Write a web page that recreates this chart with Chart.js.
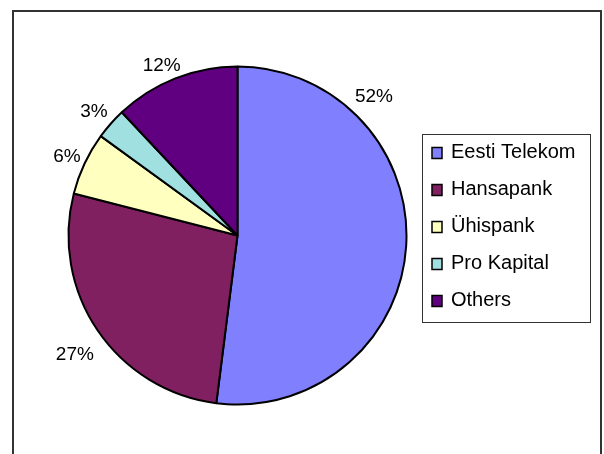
<!DOCTYPE html>
<html lang="et">
<head>
    <meta charset="UTF-8">
    <title>Document</title>
    <script src="https://cdn.jsdelivr.net/npm/chart.js"></script>
    <style>
        body{margin:0;background:#fff;}
    </style>
</head>
<body>
    <canvas id="myChart" width="604" height="454"></canvas>

<script>
    // 데이터
    var v_labels = ['Eesti Telekom', 'Hansapank', 'Ühispank', 'Pro Kapital', 'Others'];
    var v_values = [52, 27, 6, 3, 12];
    var v_colors = ['#8080ff', '#802060', '#ffffc0', '#a0e0e0', '#600080'];

    // 라벨 위치: 조각 안에서의 각도 비율, 바깥 간격(px)
    var v_labelAt = [0.227, 0.466, 0.537, 0.574, 0.479];
    var v_labelGap = [14, 17, 7, 11, 10];

    var v_font = '"Liberation Sans", Arial, sans-serif';

    function f_pct(i){
        var v_tot = 0;
        for(var k=0; k<v_values.length; k++) v_tot += v_values[k];
        return Math.round(v_values[i] / v_tot * 100) + '%';
    }

    // 바깥 테두리
    const v_frame = {
        id: 'frame',
        beforeDraw: function(chart){
            var ctx = chart.ctx;
            ctx.save();
            ctx.strokeStyle = '#333';
            ctx.lineWidth = 2;
            ctx.strokeRect(13, 11, 588, 600);
            ctx.restore();
        }
    };

    // 퍼센트 라벨 (조각 바깥)
    const v_pieLabels = {
        id: 'pieLabels',
        afterDatasetsDraw: function(chart){
            var ctx = chart.ctx;
            var v_meta = chart.getDatasetMeta(0);
            ctx.save();
            ctx.font = '19px ' + v_font;
            ctx.fillStyle = '#000';
            ctx.textAlign = 'center';
            ctx.textBaseline = 'alphabetic';
            v_meta.data.forEach(function(arc, i){
                var p = arc.getProps(['x', 'y', 'startAngle', 'endAngle', 'outerRadius'], true);
                var a = p.startAngle + (p.endAngle - p.startAngle) * v_labelAt[i];
                var txt = f_pct(i);
                var w = ctx.measureText(txt).width, h = 13.6;
                var dx = Math.cos(a), dy = Math.sin(a);
                var cx = p.x + dx * (p.outerRadius + v_labelGap[i]) + dx * w / 2;
                var cy = p.y + dy * (p.outerRadius + v_labelGap[i]) + dy * h / 2;
                ctx.fillText(txt, cx, cy + h / 2);
            });
            ctx.restore();
        }
    };

    // 범례 박스 (오른쪽)
    const v_legendBox = {
        id: 'legendBox',
        afterDraw: function(chart){
            var ctx = chart.ctx;
            var v_lbs = chart.data.labels;
            var v_bg = chart.data.datasets[0].backgroundColor;
            ctx.save();
            ctx.strokeStyle = '#333';
            ctx.lineWidth = 1;
            ctx.strokeRect(422.5, 134.5, 168, 188);
            ctx.font = '20px ' + v_font;
            ctx.textAlign = 'left';
            ctx.textBaseline = 'alphabetic';
            for(var i=0; i<v_lbs.length; i++){
                var yc = 153 + 37 * i;
                ctx.fillStyle = v_bg[i];
                ctx.fillRect(432, yc - 5.5, 10, 11);
                ctx.strokeStyle = '#000';
                ctx.lineWidth = 1.5;
                ctx.strokeRect(432, yc - 5.5, 10, 11);
                ctx.fillStyle = '#000';
                ctx.fillText(v_lbs[i], 451, 158.3 + 37 * i);
            }
            ctx.restore();
        }
    };

    const ctx = document.getElementById('myChart').getContext('2d');
    const myChart = new Chart(ctx, {
        type: 'pie',
        data: {
            labels: v_labels,
            datasets: [{
                data: v_values,
                backgroundColor: v_colors,
                borderColor: '#000',
                borderWidth: 2,
                radius: 169
            }]
        },
        options: {
            responsive: false,
            animation: false,
            devicePixelRatio: 1,
            layout: {
                padding: {left: 68, top: 66, right: 197, bottom: 49}
            },
            plugins: {
                legend: {display: false},
                tooltip: {enabled: false}
            }
        },
        plugins: [v_frame, v_pieLabels, v_legendBox]
    });
</script>
</body>
</html>
